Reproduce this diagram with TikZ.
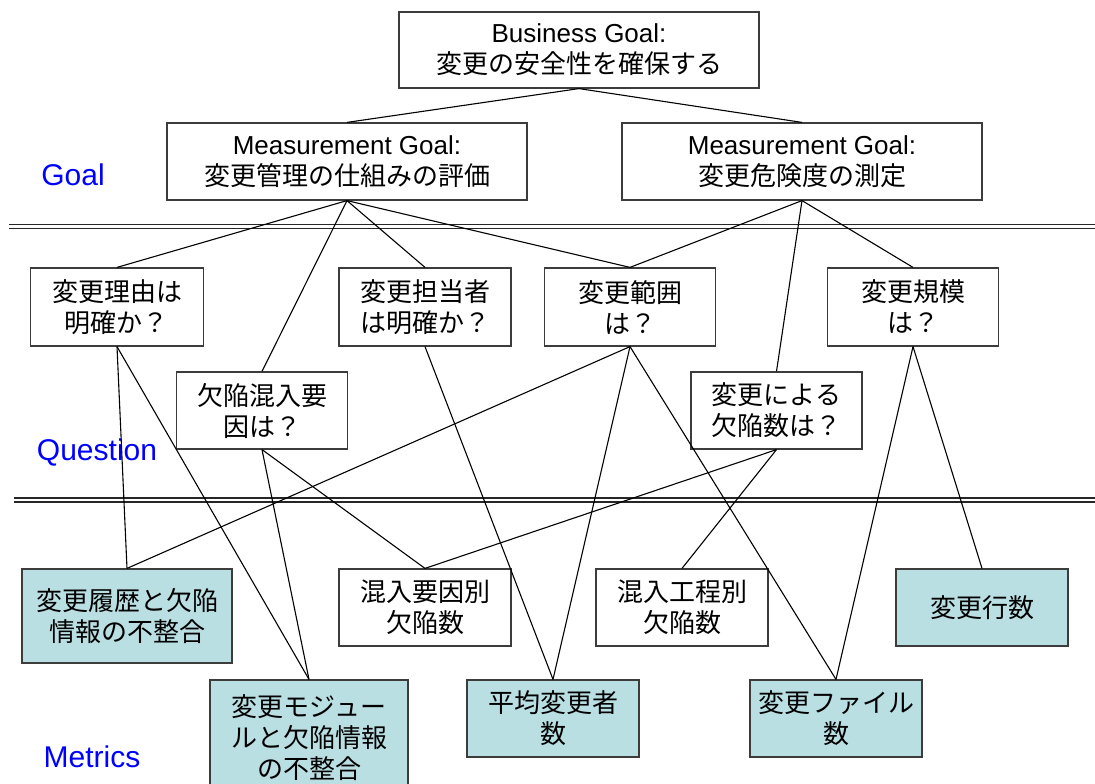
\documentclass[tikz,border=0pt]{standalone}
\usepackage{fontspec}
\setmainfont{Liberation Sans}
\newfontfamily\jpfont{Noto Sans CJK JP}
\definecolor{metfill}{RGB}{185,223,227}
\definecolor{boxline}{RGB}{60,60,60}
\begin{document}
\begin{tikzpicture}[x=1pt,y=-1pt,
  box/.style={draw=boxline, line width=1.2pt, fill=white, inner sep=0pt, align=center,
              font=\fontsize{26pt}{31pt}\selectfont},
  jpbox/.style={box, font=\jpfont\fontsize{26pt}{31pt}\selectfont},
  q/.style={jpbox, minimum width=172pt, minimum height=77pt},
  metric/.style={jpbox, fill=metfill, minimum width=172pt, minimum height=77pt},
  plainm/.style={jpbox, minimum width=172pt, minimum height=77pt},
  conn/.style={draw=black, line width=1.1pt},
  sepline/.style={draw=black!85, line width=1.3pt},
  lvl/.style={text=blue, inner sep=0pt, font=\fontsize{30pt}{36pt}\selectfont}]
\useasboundingbox[fill=white] (0,0) rectangle (1095,784);

% separators
\draw[sepline] (9,224.5) -- (1095,224.5);
\draw[sepline] (9,228.5) -- (1095,228.5);
\draw[sepline] (14,498) -- (1095,498);
\draw[sepline] (14,502) -- (1095,502);

% level labels
\node[lvl] (lgoal) at (73,175) {Goal};
\node[lvl] (lq) at (97,452) {Question};
\node[lvl] (lm) at (92,757) {Metrics};

% goals
\node[box, minimum width=360pt, minimum height=76pt] (bg) at (579,50)
  {Business Goal:\\{\jpfont 変更の安全性を確保する}};
\node[box, minimum width=360pt, minimum height=77pt] (mg1) at (347,161.5)
  {Measurement Goal:\\{\jpfont 変更管理の仕組みの評価}};
\node[box, minimum width=360pt, minimum height=77pt] (mg2) at (802,161.5)
  {Measurement Goal:\\{\jpfont 変更危険度の測定}};

% questions
\node[q, minimum width=173pt, minimum height=78pt] (q1) at (117,307) {変更理由は\\明確か？};
\node[q, minimum height=78pt] (q2) at (425,307) {変更担当者\\は明確か？};
\node[q, minimum width=171pt, minimum height=78pt] (q3) at (630,307) {変更範囲\\は？};
\node[q, minimum width=171pt, minimum height=78pt] (q4) at (913,307) {変更規模\\は？};
\node[q, minimum width=171pt] (q5) at (262,410.5) {欠陥混入要\\因は？};
\node[q, minimum width=171pt] (q6) at (776.5,410.5) {変更による\\欠陥数は？};

% metrics
\node[metric, minimum width=210pt, minimum height=94pt] (m1) at (127,616) {変更履歴と欠陥\\情報の不整合};
\node[plainm] (m2) at (425,607.5) {混入要因別\\欠陥数};
\node[plainm] (m3) at (682,607.5) {混入工程別\\欠陥数};
\node[metric] (m4) at (982,607.5) {変更行数};
\node[metric, minimum width=198pt, minimum height=116pt] (m5) at (309,738) {変更モジュー\\ルと欠陥情報\\の不整合};
\node[metric] (m6) at (553,718.5) {平均変更者\\数};
\node[metric] (m7) at (836,718.5) {変更ファイル\\数};

% connectors
\draw[conn] (bg.south) -- (mg1.north);
\draw[conn] (bg.south) -- (mg2.north);
\draw[conn] (mg1.south) -- (q1.north);
\draw[conn] (mg1.south) -- (q5.north);
\draw[conn] (mg1.south) -- (q2.north);
\draw[conn] (mg1.south) -- (q3.north);
\draw[conn] (mg2.south) -- (q3.north);
\draw[conn] (mg2.south) -- (q6.north);
\draw[conn] (mg2.south) -- (q4.north);
\draw[conn] (q1.south) -- (m1.north);
\draw[conn] (q1.south) -- (m5.north);
\draw[conn] (q5.south) -- (m5.north);
\draw[conn] (q5.south) -- (m2.north);
\draw[conn] (q2.south) -- (m6.north);
\draw[conn] (q3.south) -- (m1.north);
\draw[conn] (q3.south) -- (m6.north);
\draw[conn] (q3.south) -- (m7.north);
\draw[conn] (q6.south) -- (m2.north);
\draw[conn] (q6.south) -- (m3.north);
\draw[conn] (q4.south) -- (m7.north);
\draw[conn] (q4.south) -- (m4.north);
\end{tikzpicture}
\end{document}
